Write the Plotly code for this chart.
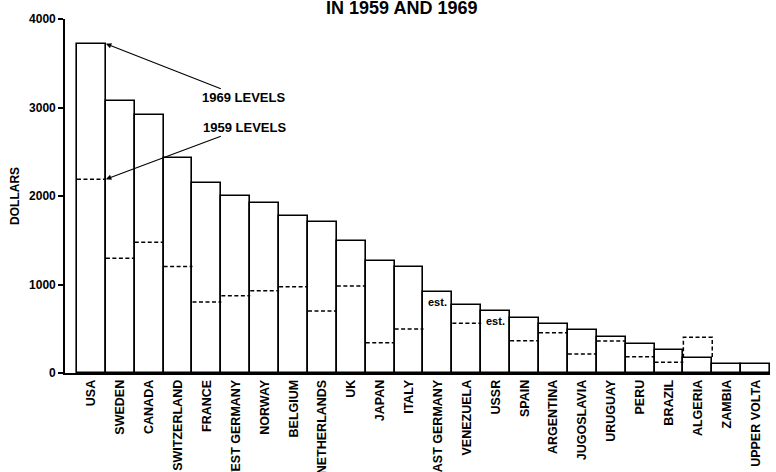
import plotly.graph_objects as go

countries = ["USA", "SWEDEN", "CANADA", "SWITZERLAND", "FRANCE", "WEST GERMANY",
             "NORWAY", "BELGIUM", "NETHERLANDS", "UK", "JAPAN", "ITALY",
             "EAST GERMANY", "VENEZUELA", "USSR", "SPAIN", "ARGENTINA",
             "JUGOSLAVIA", "URUGUAY", "PERU", "BRAZIL", "ALGERIA", "ZAMBIA",
             "UPPER VOLTA"]
levels_1969 = [3720, 3070, 2920, 2425, 2145, 2000, 1925, 1775, 1710, 1495, 1270,
               1195, 915, 772, 697, 621, 554, 482, 411, 331, 260, 173, 102, 102]
levels_1959 = [2190, 1296, 1477, 1202, 802, 874, 930, 975, 700, 983, 342,
               497, None, 561, None, 365, 455, 215, 362, 185, 121, 403, None, None]
estimated = ["EAST GERMANY", "USSR"]
y_ticks = [0, 1000, 2000, 3000, 4000]

FONT = "Liberation Sans"
idx = list(range(len(countries)))

fig = go.Figure()
fig.add_trace(go.Bar(
    x=idx, y=levels_1969, width=1,
    marker=dict(color="white", line=dict(color="black", width=1.6)),
    hoverinfo="skip", showlegend=False,
))

# dashed 1959 levels
lx, ly = [], []
for i, (v59, v69) in enumerate(zip(levels_1959, levels_1969)):
    if v59 is None:
        continue
    if v59 > v69:
        lx += [i - 0.5, i - 0.5, i + 0.5, i + 0.5, None]
        ly += [v69, v59, v59, v69, None]
    else:
        lx += [i - 0.5, i + 0.5, None]
        ly += [v59, v59, None]
fig.add_trace(go.Scatter(
    x=lx, y=ly, mode="lines",
    line=dict(color="black", width=1.5, dash="4px,2.5px"),
    hoverinfo="skip", showlegend=False,
))

annotations = []
for c in estimated:
    i = countries.index(c)
    annotations.append(dict(
        x=i, y=levels_1969[i], xref="x", yref="y", text="est.",
        showarrow=False, yanchor="top", yshift=-2,
        font=dict(family=FONT, size=11, color="black", weight="bold"),
    ))

annotations.append(dict(
    x=0.5, y=levels_1969[0], xref="x", yref="y", text="1969 LEVELS",
    showarrow=True, arrowhead=2, arrowsize=1, arrowwidth=1.1, arrowcolor="black",
    ax=138, ay=54,
    font=dict(family=FONT, size=13, color="black", weight="bold"),
))
annotations.append(dict(
    x=0.5, y=levels_1959[0], xref="x", yref="y", text="1959 LEVELS",
    showarrow=True, arrowhead=2, arrowsize=1, arrowwidth=1.1, arrowcolor="black",
    ax=139, ay=-52,
    font=dict(family=FONT, size=13, color="black", weight="bold"),
))
annotations.append(dict(
    x=-0.071, y=0.5, xref="paper", yref="paper", text="DOLLARS",
    textangle=-90, showarrow=False, xanchor="center", yanchor="middle",
    font=dict(family=FONT, size=12, color="black", weight="bold"),
))
annotations.append(dict(
    x=0.4766, y=1.032, xref="paper", yref="paper", text="IN 1959 AND 1969",
    showarrow=False, xanchor="center", yanchor="middle",
    font=dict(family=FONT, size=18, color="black", weight="bold"),
))

fig.update_layout(
    width=776, height=472,
    margin=dict(l=65, r=6, t=19, b=99),
    paper_bgcolor="white", plot_bgcolor="white",
    bargap=0,
    annotations=annotations,
    xaxis=dict(
        range=[-0.915, 23.5], tickmode="array", tickvals=idx, ticktext=countries,
        tickangle=-90, showgrid=False, zeroline=False, showline=True,
        linecolor="black", linewidth=1.6, ticks="", automargin=False,
        tickfont=dict(family=FONT, size=12.5, color="black", weight="bold"),
    ),
    yaxis=dict(
        range=[0, 4000], tickmode="array", tickvals=y_ticks,
        ticktext=[str(t) for t in y_ticks], showgrid=False, zeroline=False,
        showline=True, linecolor="black", linewidth=1.6, ticks="outside",
        ticklen=5, tickwidth=1.5, tickcolor="black", automargin=False,
        tickfont=dict(family=FONT, size=12, color="black", weight="bold"),
    ),
)

fig.write_html("out.html",
               config={"displayModeBar": False},
               post_script="document.body.style.margin='0px';document.body.style.padding='0px';")
